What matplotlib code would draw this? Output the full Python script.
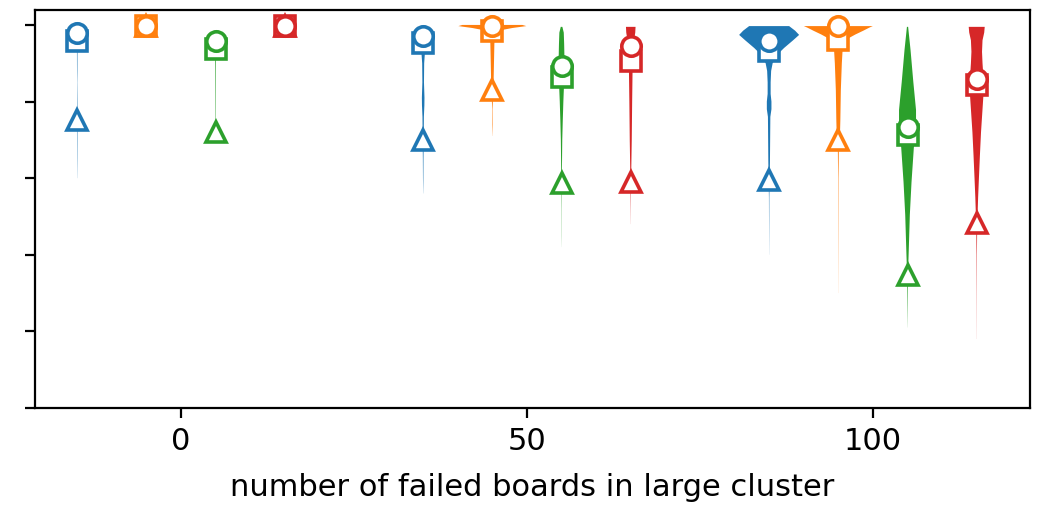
import numpy as np
import matplotlib
matplotlib.use("Agg")
import matplotlib.pyplot as plt

# x positions: failed-board groups, with one violin per series around each group
groups = [0, 50, 100]
series_offsets = [-15, -5, 5, 15]
colors = ["tab:blue", "tab:orange", "tab:green", "tab:red"]

# Density profiles per violin: value levels and relative density at each level
g0_levels = [
    [0.978, 0.96, 0.92, 0.88, 0.85, 0.80, 0.75, 0.70, 0.65, 0.60],
    [0.997, 0.993, 0.99, 0.985],
    [0.96, 0.93, 0.88, 0.82, 0.76, 0.72, 0.70],
    [0.997, 0.993, 0.99, 0.985],
]
g0_density = [
    [0.6, 0.3, 0.25, 0.2, 0.1, 0.2, 0.25, 0.2, 0.15, 0.05],
    [0.8, 0.6, 0.3, 0.05],
    [0.6, 0.4, 0.3, 0.25, 0.2, 0.1, 0.02],
    [0.8, 0.6, 0.3, 0.05],
]

g50_levels = [
    [0.99, 0.96, 0.93, 0.90, 0.85, 0.81, 0.79, 0.76, 0.70, 0.65, 0.60, 0.56],
    [1.0, 0.997, 0.992, 0.987, 0.980, 0.975, 0.95, 0.90, 0.85, 0.81, 0.78, 0.74, 0.71],
    [0.995, 0.98, 0.95, 0.90, 0.87, 0.84, 0.80, 0.75, 0.70, 0.64, 0.59, 0.52, 0.45, 0.42],
    [0.995, 0.98, 0.96, 0.93, 0.88, 0.80, 0.70, 0.62, 0.58, 0.52, 0.48],
]
g50_density = [
    [1.5, 2.0, 1.8, 1.0, 0.8, 1.3, 1.2, 0.7, 0.5, 0.3, 0.2, 0.05],
    [30, 34, 20, 10, 4, 2.5, 2, 1.6, 1.2, 0.6, 0.2, 0.25, 0.05],
    [0.8, 2.2, 2.6, 3.0, 2.8, 2.4, 1.8, 1.2, 0.7, 0.45, 0.25, 0.12, 0.08, 0.02],
    [4.8, 4.5, 3.3, 2.7, 1.8, 1.4, 1.0, 0.5, 0.25, 0.1, 0.03],
]

g100_levels = [
    [0.997, 0.985, 0.974, 0.96, 0.94, 0.922, 0.90, 0.88, 0.85, 0.82, 0.80, 0.78,
     0.76, 0.70, 0.64, 0.60, 0.55, 0.48, 0.40],
    [0.997, 0.993, 0.985, 0.975, 0.965, 0.955, 0.945, 0.90, 0.83, 0.75, 0.70, 0.68,
     0.60, 0.45, 0.30],
    [0.995, 0.935, 0.851, 0.778, 0.739, 0.679, 0.590, 0.504, 0.418, 0.36, 0.308, 0.21],
    [0.995, 0.98, 0.96, 0.93, 0.90, 0.86, 0.82, 0.78, 0.72, 0.66, 0.60, 0.55, 0.50,
     0.46, 0.40, 0.30, 0.18],
]
g100_density = [
    [20, 26, 30, 24, 15, 8, 3.5, 2.0, 1.5, 1.5, 2.3, 2.3, 1.2, 1.0, 0.8, 0.5, 0.2, 0.12, 0.03],
    [34.5, 31, 25, 17, 10, 6, 4.5, 3.5, 2.5, 2.0, 1.5, 0.5, 0.2, 0.12, 0.03],
    [0.6, 3.0, 5.8, 8.5, 8.5, 6.3, 4.0, 2.3, 1.3, 0.6, 0.3, 0.03],
    [8, 7.5, 5.8, 5.3, 5.8, 6.8, 6.8, 5.8, 4.3, 3.2, 2.2, 1.4, 0.8, 0.4, 0.2, 0.1, 0.03],
]

# Summary statistics per group (rows) and series (columns)
means = [
    [0.978, 0.997, 0.958, 0.997],
    [0.970, 0.997, 0.893, 0.944],
    [0.958, 0.997, 0.734, 0.859],
]
medians = [
    [0.957, 0.997, 0.937, 0.997],
    [0.953, 0.984, 0.863, 0.906],
    [0.931, 0.961, 0.713, 0.843],
]
lows = [
    [0.752, 0.997, 0.721, 0.997],
    [0.700, 0.830, 0.587, 0.590],
    [0.595, 0.700, 0.347, 0.483],
]

xticks = [0, 50, 100]
xlabel = "number of failed boards in large cluster"
yticks = [0.0, 0.2, 0.4, 0.6, 0.8, 1.0]

# x-axis half-width drawn per unit of relative density
half_width_per_density = 0.1445

all_levels = [g0_levels, g50_levels, g100_levels]
all_density = [g0_density, g50_density, g100_density]

plt.rcParams["font.size"] = 11

fig = plt.figure(figsize=(5.19, 2.525), dpi=200)
ax = fig.add_axes([35 / 1038, 97 / 505, 995 / 1038, 398 / 505])

for gi, g in enumerate(groups):
    for si, off in enumerate(series_offsets):
        lv = np.array(all_levels[gi][si])
        dn = np.array(all_density[gi][si])
        stats = [{
            "coords": lv,
            "vals": dn,
            "mean": means[gi][si],
            "median": medians[gi][si],
            "min": lv.min(),
            "max": lv.max(),
        }]
        width = 2 * half_width_per_density * dn.max()
        parts = ax.violin(stats, positions=[g + off], widths=[width],
                          showmeans=False, showextrema=False, showmedians=False)
        for body in parts["bodies"]:
            body.set_facecolor(colors[si])
            body.set_edgecolor("none")
            body.set_alpha(1.0)
            body.set_zorder(1)

mkw = dict(linestyle="none", markersize=7.0, markeredgewidth=1.3,
           markerfacecolor="white")
for gi, g in enumerate(groups):
    for si, off in enumerate(series_offsets):
        x = g + off
        c = colors[si]
        ax.plot([x], [lows[gi][si]], marker="^", markeredgecolor=c, zorder=3, **mkw)
        ax.plot([x], [medians[gi][si]], marker="s", markeredgecolor=c, zorder=4, **mkw)
        ax.plot([x], [means[gi][si]], marker="o", markeredgecolor=c, zorder=5, **mkw)

ax.set_xlim(-21.1, 122.7)
ax.set_ylim(0.0, 1.039)
ax.set_xticks(xticks)
ax.set_yticks(yticks)
ax.tick_params(axis="y", labelleft=False)
ax.set_xlabel(xlabel, labelpad=6)

fig.savefig("out.png", dpi=200)
